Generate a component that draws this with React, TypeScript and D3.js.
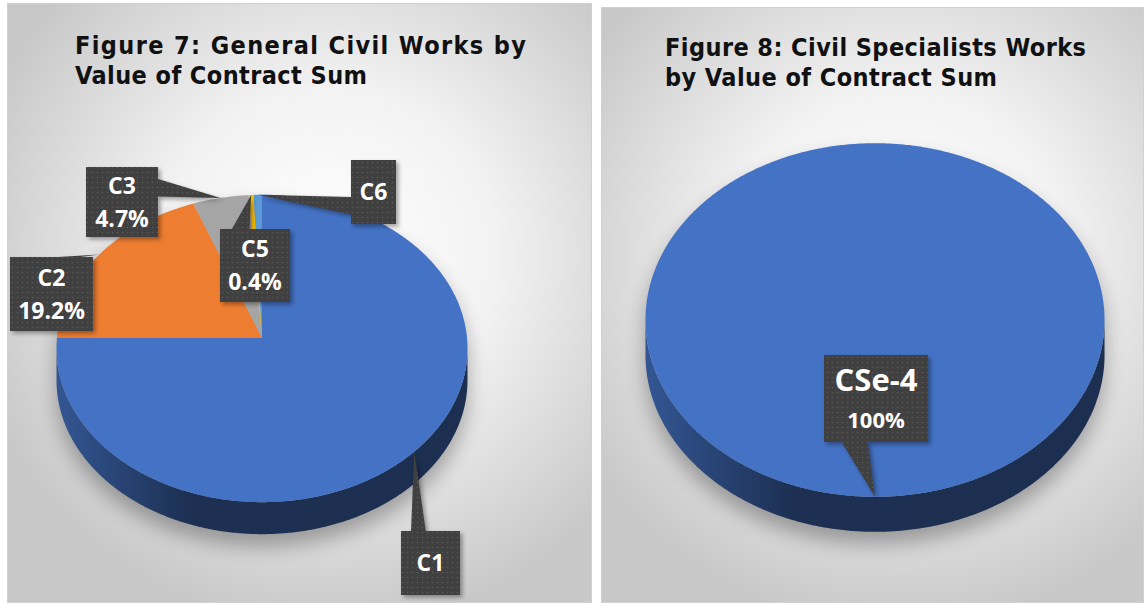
import React from 'react';
import * as d3 from 'd3';

// ---- Data ----
const fig7Categories = ['C1', 'C2', 'C3', 'C5', 'C6'];
const fig7Values = [75.0, 19.2, 4.7, 0.4, 0.7];
const fig7ShowPercent = [false, true, true, true, false];
const fig7Colors = ['#4472C4', '#ED7D31', '#A5A5A5', '#FFC000', '#5B9BD5'];
const fig7TitleLines = ['Figure 7: General Civil Works by', 'Value of Contract Sum'];

const fig8Categories = ['CSe-4'];
const fig8Values = [100];
const fig8ShowPercent = [true];
const fig8Colors = ['#4472C4'];
const fig8TitleLines = ['Figure 8: Civil Specialists Works', 'by Value of Contract Sum'];

type Box = { x: number; y: number; w: number; h: number };

type PieSpec = {
  id: string;
  categories: string[];
  values: number[];
  showPct: boolean[];
  colors: string[];
  cx: number; cy: number; rx: number; ry: number; persp: number; depth: number;
  boxes: Box[];
  nameSize: number; pctSize: number; lineH: number;
};

const FONT = "'Open Sans', 'Noto Sans', sans-serif";
const TITLE_FONT = "'DejaVu Sans Condensed', 'DejaVu Sans', sans-serif";

function makeProjector(cx: number, cy: number, rx: number, ry: number, persp: number) {
  return (a: number, r = 1, dy = 0): [number, number] => {
    const u = Math.sin(a) * r;
    const v = -Math.cos(a) * r;
    const k = 1 + persp * v;
    return [cx + (rx * u) / k, cy + (ry * v) / k + dy];
  };
}

function sampleAngles(a0: number, a1: number, step = Math.PI / 360) {
  const out = d3.range(a0, a1, step);
  out.push(a1);
  return out;
}

const line = d3.line<[number, number]>().x(d => d[0]).y(d => d[1]);

function calloutPath(b: Box, tip: [number, number]) {
  const cxB = b.x + b.w / 2, cyB = b.y + b.h / 2;
  const dxn = (tip[0] - cxB) / b.w;
  const dyn = (tip[1] - cyB) / b.h;
  const inside = tip[0] >= b.x && tip[0] <= b.x + b.w && tip[1] >= b.y && tip[1] <= b.y + b.h;
  const pts: [number, number][] = [];
  const lowFr: [number, number] = [0.17, 0.42];
  const highFr: [number, number] = [0.58, 0.85];
  if (inside) {
    return line([[b.x, b.y], [b.x + b.w, b.y], [b.x + b.w, b.y + b.h], [b.x, b.y + b.h]])! + 'Z';
  }
  if (Math.abs(dyn) >= Math.abs(dxn) * 0.9) {
    const fr = tip[0] < cxB ? lowFr : highFr;
    if (dyn < 0) {
      pts.push([b.x, b.y], [b.x + b.w * fr[0], b.y], tip, [b.x + b.w * fr[1], b.y], [b.x + b.w, b.y], [b.x + b.w, b.y + b.h], [b.x, b.y + b.h]);
    } else {
      pts.push([b.x, b.y], [b.x + b.w, b.y], [b.x + b.w, b.y + b.h], [b.x + b.w * fr[1], b.y + b.h], tip, [b.x + b.w * fr[0], b.y + b.h], [b.x, b.y + b.h]);
    }
  } else {
    const fr = tip[1] < cyB ? lowFr : highFr;
    if (dxn > 0) {
      pts.push([b.x, b.y], [b.x + b.w, b.y], [b.x + b.w, b.y + b.h * fr[0]], tip, [b.x + b.w, b.y + b.h * fr[1]], [b.x + b.w, b.y + b.h], [b.x, b.y + b.h]);
    } else {
      pts.push([b.x, b.y], [b.x + b.w, b.y], [b.x + b.w, b.y + b.h], [b.x, b.y + b.h], [b.x, b.y + b.h * fr[1]], tip, [b.x, b.y + b.h * fr[0]]);
    }
  }
  return line(pts)! + 'Z';
}

function Pie3D({ spec }: { spec: PieSpec }) {
  const { cx, cy, rx, ry, persp, depth } = spec;
  const proj = makeProjector(cx, cy, rx, ry, persp);
  const arcs = d3.pie<number>().sort(null).value(d => d)(spec.values);
  const total = d3.sum(spec.values);
  const fmt = d3.format('.1%');

  const all = sampleAngles(0, 2 * Math.PI);
  let aR = 0, aL = 0, maxX = -Infinity, minX = Infinity;
  all.forEach(a => {
    const [x] = proj(a);
    if (x > maxX) { maxX = x; aR = a; }
    if (x < minX) { minX = x; aL = a; }
  });
  const front = sampleAngles(aR, aL);
  const outline = [
    ...sampleAngles(aL, aR + 2 * Math.PI).map(a => proj(a)),
    ...front.map(a => proj(a, 1, depth)),
  ] as [number, number][];

  return (
    <g>
      <defs>
        {spec.colors.map((c, i) => (
          <linearGradient key={i} id={`side-${spec.id}-${i}`} gradientUnits="userSpaceOnUse" x1={cx - rx} x2={cx + rx} y1={0} y2={0}>
            <stop offset="0" stopColor={d3.color(c)!.darker(0.8).formatHex()} />
            <stop offset="0.32" stopColor={d3.color(c)!.darker(2.4).formatHex()} />
            <stop offset="1" stopColor={d3.color(c)!.darker(2.5).formatHex()} />
          </linearGradient>
        ))}
      </defs>
      <path d={line(outline)! + 'Z'} fill="#000" opacity={0.3} filter="url(#pieShadow)" transform="translate(0,12)" />
      {arcs.map((a, i) => {
        const lo = Math.max(a.startAngle, aR);
        const hi = Math.min(a.endAngle, aL);
        if (lo >= hi) return null;
        const ang = sampleAngles(lo, hi);
        const pts = [...ang.map(t => proj(t)), ...ang.slice().reverse().map(t => proj(t, 1, depth))] as [number, number][];
        return <path key={`s${i}`} d={line(pts)! + 'Z'} fill={`url(#side-${spec.id}-${i})`} />;
      })}
      {arcs.map((a, i) => {
        const ang = sampleAngles(a.startAngle, a.endAngle);
        const full = a.endAngle - a.startAngle >= 2 * Math.PI - 1e-6;
        const pts = (full ? ang.map(t => proj(t)) : [[cx, cy], ...ang.map(t => proj(t))]) as [number, number][];
        return <path key={`t${i}`} d={line(pts)! + 'Z'} fill={spec.colors[i]} />;
      })}
      {arcs.map((a, i) => {
        const b = spec.boxes[i];
        const mid = (a.startAngle + a.endAngle) / 2;
        const tip = proj(mid);
        const lines: { t: string; s: number }[] = [{ t: spec.categories[i], s: spec.nameSize }];
        if (spec.showPct[i]) lines.push({ t: spec.values[i] / total === 1 ? '100%' : fmt(spec.values[i] / total), s: spec.pctSize });
        const capH = lines[0].s * 0.714;
        const totalH = capH + (lines.length - 1) * spec.lineH;
        const b1 = b.y + b.h / 2 - totalH / 2 + capH;
        const d = calloutPath(b, tip);
        return (
          <g key={`c${i}`}>
            <path d={d} fill="#000" opacity={0.35} transform="translate(2.5,2.5)" filter="url(#boxShadow)" />
            <path d={d} fill="#404040" />
            <path d={d} fill="url(#dots)" />
            {lines.map((l, j) => (
              <text key={j} x={b.x + b.w / 2} y={b1 + j * spec.lineH} textAnchor="middle" fontFamily={FONT} fontWeight={700} fontSize={l.s} fill="#ffffff">
                {l.t}
              </text>
            ))}
          </g>
        );
      })}
    </g>
  );
}

function Panel({ x, y, w, h, id }: { x: number; y: number; w: number; h: number; id: string }) {
  return (
    <g>
      <defs>
        <radialGradient id={`bg-${id}`} gradientUnits="userSpaceOnUse" cx={x + w * 0.55} cy={y + h * 0.42} r={Math.max(w, h) * 0.62}>
          <stop offset="0" stopColor="#ffffff" />
          <stop offset="0.45" stopColor="#f2f2f2" />
          <stop offset="1" stopColor="#c8c8c8" />
        </radialGradient>
      </defs>
      <rect x={x} y={y} width={w} height={h} fill={`url(#bg-${id})`} />
      <rect x={x + 0.5} y={y + 0.5} width={w - 1} height={h - 1} fill="none" stroke="#d0d0d0" strokeWidth={1} />
    </g>
  );
}

const spec7: PieSpec = {
  id: 'f7', categories: fig7Categories, values: fig7Values, showPct: fig7ShowPercent, colors: fig7Colors,
  cx: 262, cy: 338, rx: 205, ry: 153, persp: -0.068, depth: 32,
  boxes: [
    { x: 401, y: 531, w: 59, h: 64 },
    { x: 10, y: 257, w: 83, h: 74 },
    { x: 86, y: 167, w: 72, h: 70 },
    { x: 220, y: 229, w: 70, h: 73 },
    { x: 351, y: 160, w: 45, h: 64 },
  ],
  nameSize: 23, pctSize: 23, lineH: 33,
};

const spec8: PieSpec = {
  id: 'f8', categories: fig8Categories, values: fig8Values, showPct: fig8ShowPercent, colors: fig8Colors,
  cx: 875, cy: 308, rx: 229, ry: 176, persp: -0.068, depth: 35,
  boxes: [{ x: 824, y: 355, w: 104, h: 87 }],
  nameSize: 31, pctSize: 22, lineH: 37,
};

export default function App() {
  return (
    <svg width={1144} height={603} style={{ position: 'absolute', left: 0, top: 0, display: 'block', background: '#ffffff' }}>
      <defs>
        <filter id="pieShadow" x="-20%" y="-20%" width="140%" height="140%">
          <feGaussianBlur stdDeviation="10" />
        </filter>
        <filter id="boxShadow" x="-20%" y="-20%" width="140%" height="140%">
          <feGaussianBlur stdDeviation="2" />
        </filter>
        <pattern id="dots" width="5" height="5" patternUnits="userSpaceOnUse">
          <circle cx="2.5" cy="2.5" r="0.8" fill="#5a5a5a" />
        </pattern>
      </defs>
      <Panel x={7} y={3} w={585} h={600} id="p7" />
      <Panel x={601} y={7} w={543} h={596} id="p8" />

      <text fontFamily={TITLE_FONT} fontWeight={700} fontSize={25} fill="#111">
        <tspan x={75} y={54} textLength={451} lengthAdjust="spacing">{fig7TitleLines[0]}</tspan>
        <tspan x={75} y={84} textLength={292} lengthAdjust="spacing">{fig7TitleLines[1]}</tspan>
      </text>
      <text fontFamily={TITLE_FONT} fontWeight={700} fontSize={25} fill="#111">
        <tspan x={665} y={56} textLength={421} lengthAdjust="spacing">{fig8TitleLines[0]}</tspan>
        <tspan x={665} y={86} textLength={332} lengthAdjust="spacing">{fig8TitleLines[1]}</tspan>
      </text>

      <Pie3D spec={spec7} />
      <Pie3D spec={spec8} />
    </svg>
  );
}
